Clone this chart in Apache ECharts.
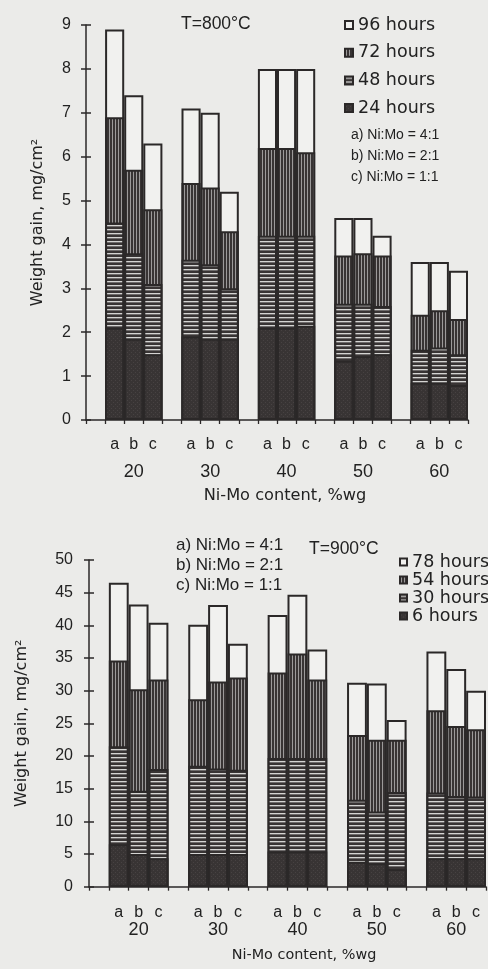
<!DOCTYPE html>
<html><head><meta charset="utf-8">
<script src="https://cdn.jsdelivr.net/npm/echarts@6/dist/echarts.min.js"></script>
<style>html,body{margin:0;padding:0;background:#ebebe9}#c{width:488px;height:969px}</style>
</head><body><div id="c"></div>
<script>
// ---------- data ----------
const groups = ['20', '30', '40', '50', '60'];
const alloys = ['a', 'b', 'c'];
const ratioLabels = ['a) Ni:Mo = 4:1', 'b) Ni:Mo = 2:1', 'c) Ni:Mo = 1:1'];
const xName = 'Ni-Mo content, %wg';
const yName = 'Weight gain, mg/cm\u00b2';

// T=800°C : cumulative weight gain (mg/cm2) after each exposure, order a,b,c per group
const titleTop = 'T=800\u00b0C';
const namesTop = ['96 hours', '72 hours', '48 hours', '24 hours'];
const t800_96 = [8.9, 7.4, 6.3,  7.1, 7.0, 5.2,  8.0, 8.0, 8.0,  4.6, 4.6, 4.2,  3.6, 3.6, 3.4];
const t800_72 = [6.9, 5.7, 4.8,  5.4, 5.3, 4.3,  6.2, 6.2, 6.1,  3.75, 3.8, 3.75,  2.4, 2.5, 2.3];
const t800_48 = [4.5, 3.8, 3.1,  3.65, 3.55, 3.0,  4.2, 4.2, 4.2,  2.65, 2.65, 2.6,  1.6, 1.65, 1.5];
const t800_24 = [2.1, 1.85, 1.5,  1.9, 1.85, 1.85,  2.1, 2.1, 2.15,  1.35, 1.45, 1.5,  0.85, 0.85, 0.8];

// T=900°C
const titleBot = 'T=900\u00b0C';
const namesBot = ['78 hours', '54 hours', '30 hours', '6 hours'];
const t900_78 = [46.5, 43.2, 40.4,  40.1, 43.1, 37.2,  41.6, 44.7, 36.3,  31.2, 31.1, 25.5,  36.0, 33.3, 30.0];
const t900_54 = [34.6, 30.2, 31.7,  28.7, 31.4, 32.0,  32.8, 35.7, 31.7,  23.2, 22.5, 22.5,  27.0, 24.6, 24.1];
const t900_30 = [21.5, 14.7, 18.0,  18.5, 18.1, 17.9,  19.7, 19.7, 19.7,  13.3, 11.5, 14.5,  14.4, 13.9, 13.8];
const t900_6  = [6.5, 5.0, 4.35,  5.0, 5.0, 5.0,  5.4, 5.4, 5.4,  3.8, 3.6, 2.7,  4.35, 4.35, 4.35];

// ---------- styling helpers ----------
const INK = '#2b2828';
const TXT = '#222';
const ARIAL = "'Liberation Sans', Arial, sans-serif";
const DEJA = "'DejaVu Sans', sans-serif";

function makePattern(kind) {
  const c = document.createElement('canvas');
  const dark = '#383434';
  if (kind === 'white') { c.width = 2; c.height = 2; const x = c.getContext('2d'); x.fillStyle = '#f1f1ef'; x.fillRect(0,0,2,2); return c; }
  if (kind === 'solid') { c.width = 4; c.height = 4; const x = c.getContext('2d'); x.fillStyle = dark; x.fillRect(0,0,4,4); x.fillStyle = '#474242'; x.fillRect(1,2,1,1); x.fillRect(3,0,1,1); return c; }
  if (kind === 'v') { c.width = 3; c.height = 1; const x = c.getContext('2d'); x.fillStyle = dark; x.fillRect(0,0,3,1); x.fillStyle = '#9c9a9a'; x.fillRect(1,0,1,1); return c; }
  // horizontal
  c.width = 1; c.height = 4; const x = c.getContext('2d'); x.fillStyle = dark; x.fillRect(0,0,1,4);
  x.fillStyle = '#d4d4d2'; x.fillRect(0,1,1,1); x.fillStyle = '#6f6c6c'; x.fillRect(0,2,1,1); return c;
}
const fills = ['white', 'v', 'h', 'solid'].map(k => ({ image: makePattern(k), repeat: 'repeat' }));

// ---------- category slots: gap, a, b, c per group ----------
const slotCats = [], groupCats = [];
groups.forEach(g => {
  slotCats.push(''); groupCats.push('');
  alloys.forEach((a, i) => { slotCats.push(a); groupCats.push(i === 1 ? g : ''); });
});
function slotData(vals) {
  const out = [];
  groups.forEach((g, gi) => { out.push('-'); alloys.forEach((a, ai) => out.push(vals[gi * alloys.length + ai])); });
  return out;
}
function bar(name, vals, fill, xi, yi) {
  return { name, type: 'bar', xAxisIndex: xi, yAxisIndex: yi, data: slotData(vals),
    barWidth: '100%', barGap: '-100%', silent: true,
    itemStyle: { color: fill, borderColor: INK, borderWidth: 2 } };
}
function yAxes(grid, max, interval, labelMargin, nameGap) {
  return [
    { type: 'value', gridIndex: grid, position: 'left', min: 0, max, interval,
      axisLine: { show: true, lineStyle: { color: INK, width: 1.5 } },
      axisTick: { show: true, length: 5, lineStyle: { color: INK, width: 1.5 } },
      axisLabel: { fontSize: 16, margin: labelMargin, color: TXT, fontFamily: ARIAL },
      splitLine: { show: false },
      name: yName, nameLocation: 'middle', nameGap,
      nameTextStyle: { fontSize: 16, fontFamily: DEJA, color: TXT } },
    { type: 'value', gridIndex: grid, position: 'left', offset: 0, min: 0, max, interval,
      axisLine: { show: false }, axisLabel: { show: false }, splitLine: { show: false },
      axisTick: { show: true, inside: true, length: 5, lineStyle: { color: INK, width: 1.5 } } }
  ];
}
function xAxes(grid, abcMargin, grpMargin, nameGap, nameSize, namePad) {
  return [
    { type: 'category', gridIndex: grid, position: 'bottom', data: slotCats,
      axisLine: { show: true, lineStyle: { color: INK, width: 1.5 } },
      axisTick: { show: true, length: 4, interval: 0, lineStyle: { color: INK, width: 1.3 } },
      axisLabel: { interval: 0, fontSize: 16, margin: abcMargin, color: TXT, fontFamily: ARIAL },
      splitLine: { show: false } },
    { type: 'category', gridIndex: grid, position: 'bottom', offset: 0, data: groupCats,
      axisLine: { show: false }, axisTick: { show: false }, splitLine: { show: false },
      axisLabel: { interval: 0, fontSize: 18, margin: grpMargin, color: TXT, fontFamily: ARIAL },
      name: xName, nameLocation: 'middle', nameGap,
      nameTextStyle: { fontSize: nameSize, fontFamily: DEJA, color: TXT, padding: namePad } }
  ];
}

const chart = echarts.init(document.getElementById('c'), null, { renderer: 'canvas' });
chart.setOption({
  animation: false,
  backgroundColor: '#ebebe9',
  title: [
    { text: titleTop, left: 181, top: 15, padding: 0, textStyle: { fontSize: 17.5, fontWeight: 'normal', color: TXT, fontFamily: ARIAL } },
    { text: ratioLabels.join('\n'), left: 351, top: 125, padding: 0, textStyle: { fontSize: 14, lineHeight: 21, fontWeight: 'normal', color: TXT, fontFamily: ARIAL } },
    { text: titleBot, left: 309, top: 540, padding: 0, textStyle: { fontSize: 17.5, fontWeight: 'normal', color: TXT, fontFamily: ARIAL } },
    { text: ratioLabels.join('\n'), left: 176, top: 535, padding: 0, textStyle: { fontSize: 17, lineHeight: 20, fontWeight: 'normal', color: TXT, fontFamily: ARIAL } }
  ],
  legend: [
    { data: namesTop, orient: 'vertical', left: 344, top: 15, padding: 0, itemGap: 7.7,
      itemWidth: 8, itemHeight: 8, icon: 'rect', selectedMode: false,
      textStyle: { fontSize: 17.5, lineHeight: 20, color: TXT, fontFamily: DEJA } },
    { data: namesBot, orient: 'vertical', left: 399, top: 553, padding: 0, itemGap: 0,
      itemWidth: 7, itemHeight: 7, icon: 'rect', selectedMode: false,
      textStyle: { fontSize: 17.5, lineHeight: 17.4, color: TXT, fontFamily: DEJA } }
  ],
  grid: [
    { left: 86, top: 25, width: 382, height: 395 },
    { left: 89, top: 560, width: 397, height: 326.7 }
  ],
  xAxis: [...xAxes(0, 17, 43, 68, 16.2, [0, 0, 0, 16]), ...xAxes(1, 18, 34, 62, 14.4, [0, 0, 0, 33])],
  yAxis: [...yAxes(0, 9, 1, 15, 40), ...yAxes(1, 50, 5, 16, 59)],
  series: [
    bar(namesTop[0], t800_96, fills[0], 0, 0),
    bar(namesTop[1], t800_72, fills[1], 0, 0),
    bar(namesTop[2], t800_48, fills[2], 0, 0),
    bar(namesTop[3], t800_24, fills[3], 0, 0),
    bar(namesBot[0], t900_78, fills[0], 2, 2),
    bar(namesBot[1], t900_54, fills[1], 2, 2),
    bar(namesBot[2], t900_30, fills[2], 2, 2),
    bar(namesBot[3], t900_6,  fills[3], 2, 2)
  ]
});
</script>
</body></html>
